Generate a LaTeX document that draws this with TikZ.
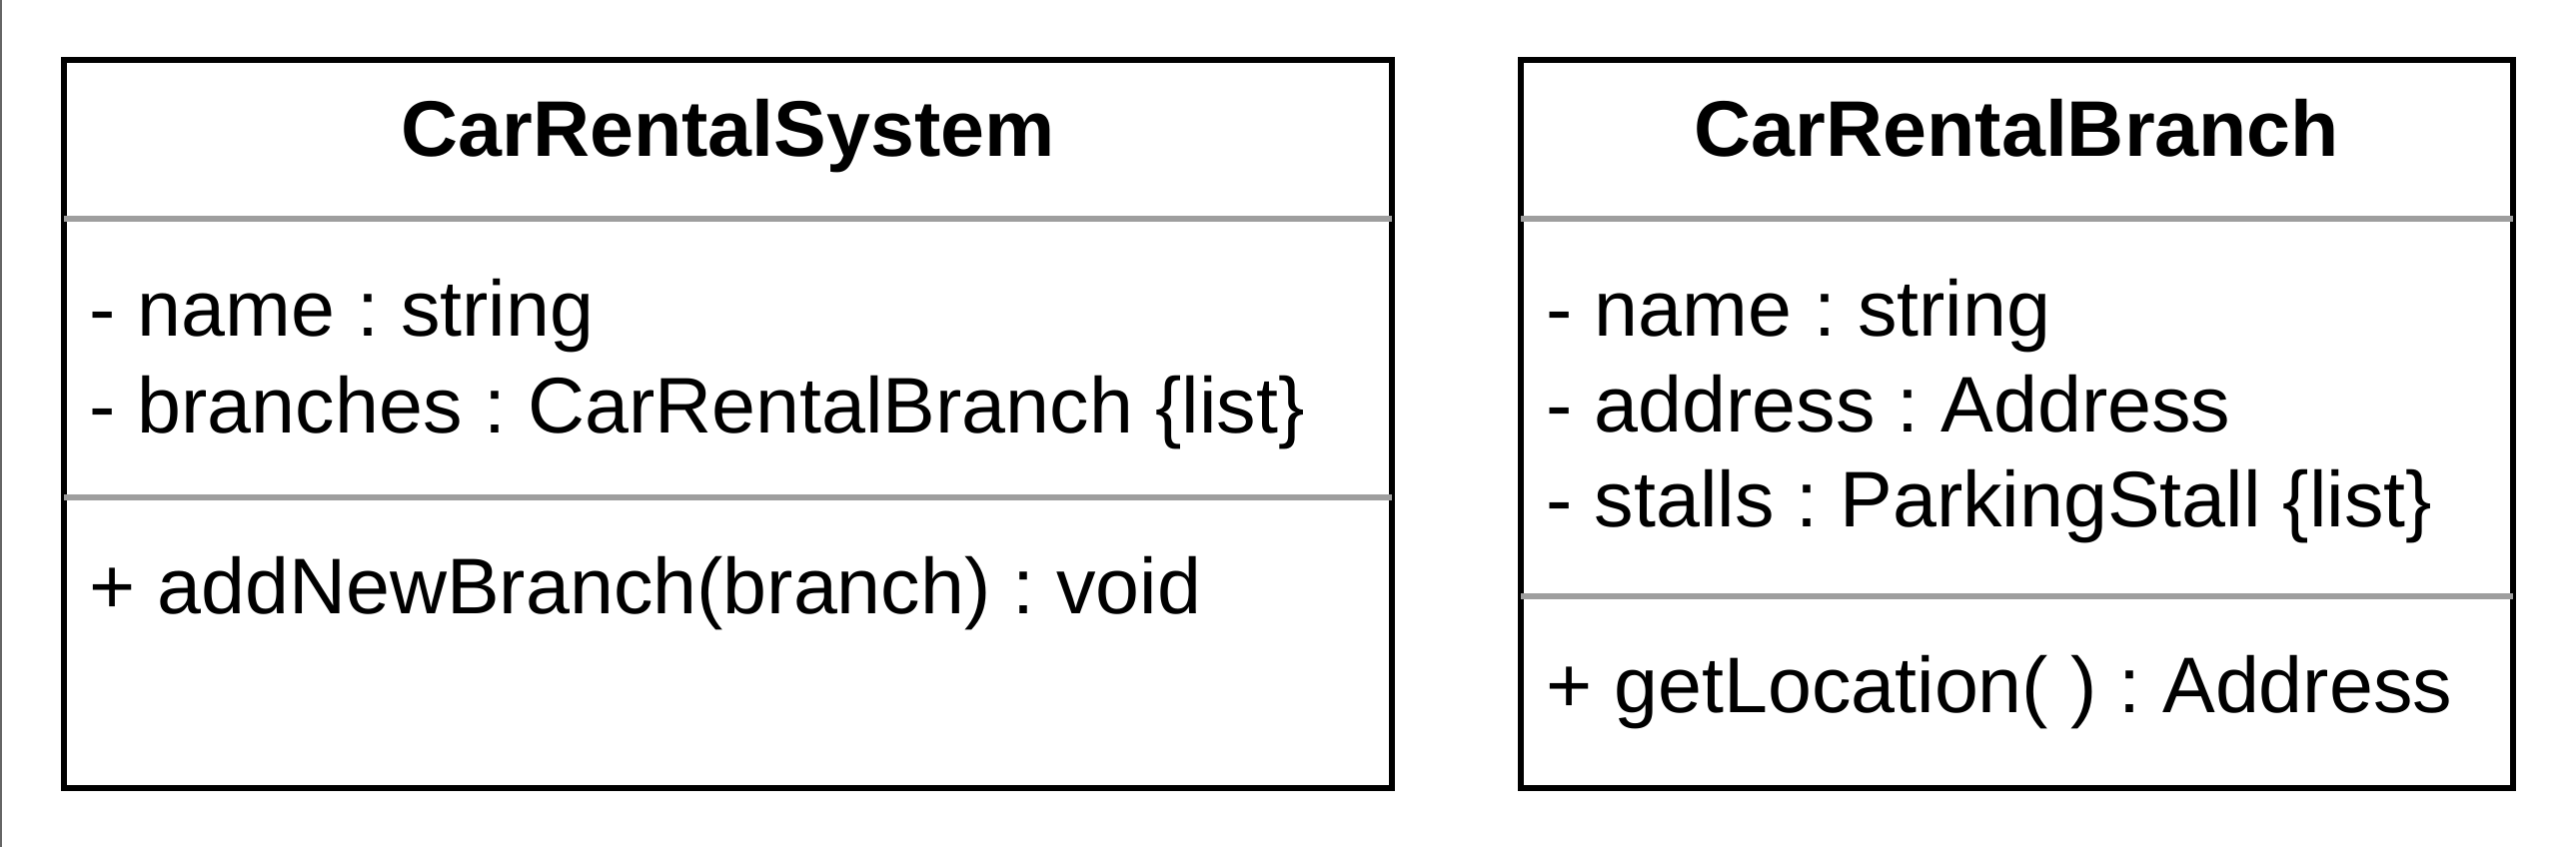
\documentclass[tikz,border=0pt]{standalone}
\usepackage{fontspec}
\setmainfont{Liberation Sans}
\begin{document}
\frenchspacing
\begin{tikzpicture}[x=0.5pt,y=-0.5pt,
  classbox/.style={draw=black,line width=3.1pt,minimum width=#1,minimum height=364.5pt,inner sep=0pt,outer sep=0pt},
  divider/.style={draw=black!38,line width=2.75pt},
  title/.style={font=\fontsize{39.5}{48}\selectfont\bfseries,anchor=base,inner sep=0pt},
  member/.style={font=\fontsize{39.5}{48}\selectfont,anchor=base west,inner sep=0pt},
  edge/.style={draw=black!60,line width=0.9pt}]
\useasboundingbox (0,0) rectangle (2578,848);
\coordinate (edgetop) at (0.8,0);
\coordinate (edgebot) at (0.8,848);
\draw[edge] (edgetop) -- (edgebot);
% Class 1
\node[classbox=664.5pt] (sys) at (728.5,424.5) {};
\draw[divider] (sys.west |- 0,219) -- (sys.east |- 0,219);
\draw[divider] (sys.west |- 0,498) -- (sys.east |- 0,498);
\node[title] (systitle) at (728.5,156) {CarRentalSystem};
\node[member] (sysname) at (89,336) {- name : string};
\node[member] (sysbranches) at (89,433) {- branches : CarRentalBranch \{list\}};
\node[member] (sysadd) at (89,614) {+ addNewBranch(branch) : void};
% Class 2
\node[classbox=496.5pt] (br) at (2018.5,424.5) {};
\draw[divider] (br.west |- 0,219) -- (br.east |- 0,219);
\draw[divider] (br.west |- 0,597) -- (br.east |- 0,597);
\node[title] (brtitle) at (2018.5,156) {CarRentalBranch};
\node[member] (brname) at (1547,336) {- name : string};
\node[member] (braddr) at (1547,432) {- address : Address};
\node[member] (brstalls) at (1547,527) {- stalls : ParkingStall \{list\}};
\node[member] (brloc) at (1547,713) {+ getLocation( ) : Address};
\end{tikzpicture}
\end{document}
